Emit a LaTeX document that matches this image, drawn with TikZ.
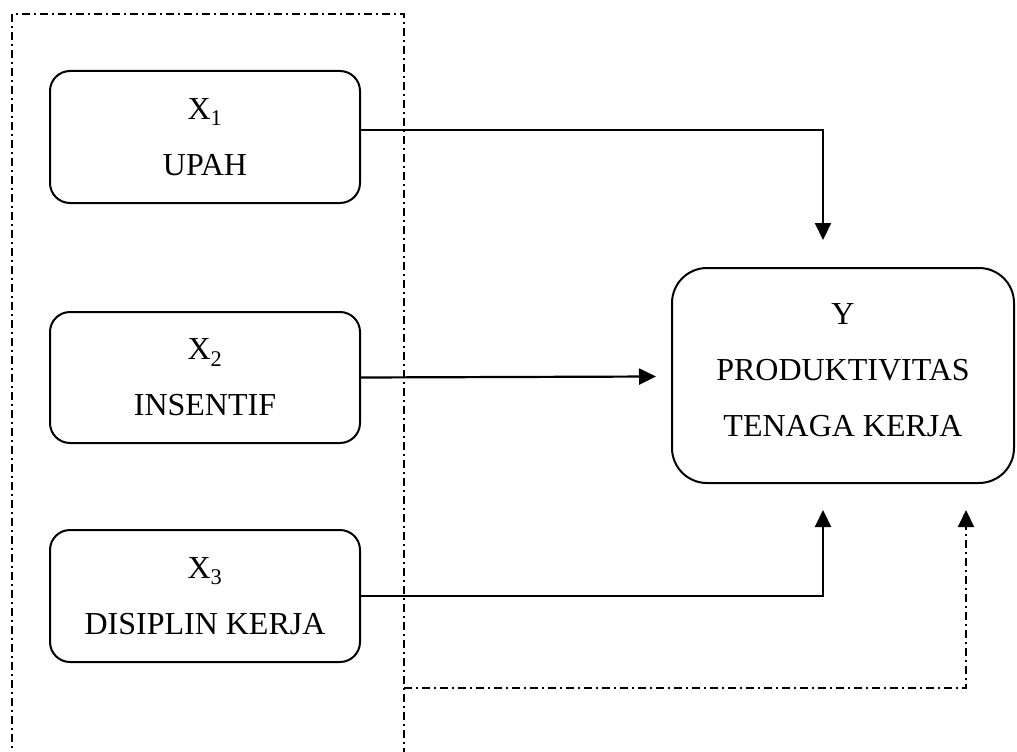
\documentclass[tikz,border=0pt]{standalone}
\usepackage{fontspec}
\setmainfont{Liberation Serif}
\usetikzlibrary{arrows.meta}
\tikzset{
  varbox/.style={draw, line width=2pt, rounded corners=20pt, align=center,
    font=\fontsize{32}{56}\selectfont, inner sep=0pt},
  tip/.style={-{Triangle[width=16pt,length=17pt]}},
  link/.style={line width=2.2pt, tip},
  dashdot/.style={line width=2pt, dash pattern=on 8pt off 4pt on 2pt off 4pt},
}
\begin{document}
\begin{tikzpicture}[x=1pt,y=-1pt]
\useasboundingbox (0,0) rectangle (1017,752);
% group frame
\coordinate (fbl) at (12,760);
\coordinate (ftl) at (12,14);
\coordinate (ftr) at (404,14);
\coordinate (fbr) at (404,760);
\draw[dashdot] (fbl) -- (ftl) -- (ftr) -- (fbr);
% boxes
\node[varbox, minimum width=310pt, minimum height=132pt] (x1) at (205,137)
  {X\textsubscript{1}\\UPAH};
\node[varbox, minimum width=310pt, minimum height=131pt] (x2) at (205,377.5)
  {X\textsubscript{2}\\INSENTIF};
\node[varbox, minimum width=310pt, minimum height=132pt] (x3) at (205,596)
  {X\textsubscript{3}\\DISIPLIN KERJA};
\node[varbox, rounded corners=35pt, minimum width=342pt, minimum height=215pt] (y) at (843,375.5)
  {\raisebox{10pt}{Y}\\\raisebox{10pt}{PRODUKTIVITAS}\\\raisebox{10pt}{TENAGA KERJA}};
% connectors
\coordinate (t1) at (823,240);
\coordinate (t2) at (656,376.5);
\coordinate (t3) at (823,510);
\coordinate (s4) at (404,688);
\coordinate (t4) at (966,510);
\draw[link] ([yshift=7pt]x1.east) -| (t1);
\draw[link] (x2.east) -- (t2);
\draw[link] (x3.east) -| (t3);
\draw[dashdot, tip] (s4) -| (t4);
\end{tikzpicture}
\end{document}
